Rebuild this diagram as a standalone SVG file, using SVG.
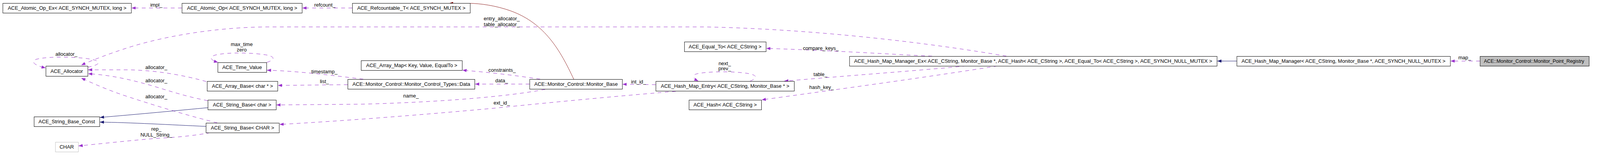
<svg xmlns="http://www.w3.org/2000/svg" width="4197" height="405" viewBox="0 0 4197 405" preserveAspectRatio="none">
<style>
  svg:root{width:100vw;height:100vh}
  .box{fill:#ffffff;stroke:#000000;stroke-width:1}
  .gbox{fill:#ffffff;stroke:#bfbfbf;stroke-width:1}
  .sel{fill:#bfbfbf;stroke:#000000;stroke-width:1}
  .t{font-family:"Liberation Sans",Arial,sans-serif;font-size:13.3px;fill:#000000;text-anchor:middle}
  .e{fill:none;stroke:#9a32cd;stroke-width:1;stroke-dasharray:10,9}
  .inh{fill:none;stroke:#191970;stroke-width:1}
  .priv{fill:none;stroke:#8b1a1a;stroke-width:1}
</style>
<defs>
  <marker id="ap" markerUnits="userSpaceOnUse" markerWidth="12" markerHeight="9" refX="11" refY="4" orient="auto"><path d="M0,0 L11,4 L0,8 z" fill="#9a32cd"/></marker>
  <marker id="an" markerUnits="userSpaceOnUse" markerWidth="12" markerHeight="9" refX="11" refY="4" orient="auto"><path d="M0,0 L11,4 L0,8 z" fill="#191970"/></marker>
  <marker id="ar" markerUnits="userSpaceOnUse" markerWidth="12" markerHeight="9" refX="11" refY="4" orient="auto"><path d="M0,0 L11,4 L0,8 z" fill="#8b1a1a"/></marker>
</defs>
<rect width="4197" height="405" fill="#ffffff"/>
<g id="connectors">
  <path class="e" d="M477,20.5 L345,20.5" marker-end="url(#ap)"/>
  <text class="t" x="410" y="17">impl_</text>
  <path class="e" d="M924,20.5 L793,20.5" marker-end="url(#ap)"/>
  <text class="t" x="852" y="17">refcount_</text>
  <path class="priv" d="M1505,203 C1470,130 1430,60 1340,28 C1300,14 1260,9 1232,8.5 L1178,8.5" marker-end="url(#ar)"/>
  <path class="e" d="M230,172 C255,168 270,160 245,153 C215,146 130,143 95,152 C80,158 90,168 120,174" marker-end="url(#ap)"/>
  <text class="t" x="174" y="143">allocator_</text>
  <path class="e" d="M2640,144 C2450,112 2150,75 1850,69 L700,69 C560,70 420,95 330,124 C280,140 240,155 213,167" marker-end="url(#ap)"/>
  <text class="t" x="1316" y="52">entry_allocator_</text>
  <text class="t" x="1316" y="67">table_allocator_</text>
  <path class="e" d="M541,209 C490,195 420,181 340,179 L231,179" marker-end="url(#ap)"/>
  <text class="t" x="410" y="177">allocator_</text>
  <path class="e" d="M545,258 C500,250 460,238 420,226 C350,205 290,192 231,189" marker-end="url(#ap)"/>
  <text class="t" x="410" y="211">allocator_</text>
  <path class="e" d="M570,315 C500,298 420,275 330,246 C280,230 240,212 213,200" marker-end="url(#ap)"/>
  <text class="t" x="410" y="252">allocator_</text>
  <path class="inh" d="M545,276 C480,282 350,294 262,301" marker-end="url(#an)"/>
  <path class="inh" d="M540,324 C450,320 340,314 262,313" marker-end="url(#an)"/>
  <path class="e" d="M552,340 C520,346 470,352 420,354 C340,360 260,369 206,374" marker-end="url(#ap)"/>
  <text class="t" x="410" y="335">rep_</text>
  <text class="t" x="410" y="350">NULL_String_</text>
  <path class="e" d="M700,160 C715,155 725,148 705,142 C670,135 600,133 565,141 C545,147 555,155 572,160" marker-end="url(#ap)"/>
  <text class="t" x="634" y="118">max_time</text>
  <text class="t" x="634" y="132">zero</text>
  <path class="e" d="M953,203 C870,193 780,182 700,180" marker-end="url(#ap)"/>
  <text class="t" x="851" y="188">timestamp_</text>
  <path class="e" d="M912,217 L729,219" marker-end="url(#ap)"/>
  <text class="t" x="851" y="213">list_</text>
  <path class="e" d="M1430,229 C1330,248 1150,262 950,267 L725,269" marker-end="url(#ap)"/>
  <text class="t" x="1078" y="250">name_</text>
  <path class="e" d="M1417,203 C1350,193 1280,185 1213,180" marker-end="url(#ap)"/>
  <text class="t" x="1317" y="184">constraints_</text>
  <path class="e" d="M1389,215.5 L1246,215.5" marker-end="url(#ap)"/>
  <text class="t" x="1316" y="211">data_</text>
  <path class="e" d="M1720,217 L1633,216" marker-end="url(#ap)"/>
  <text class="t" x="1675" y="214">int_id_</text>
  <path class="e" d="M1773,234 C1600,248 1450,262 1300,277 C1100,295 900,310 733,319" marker-end="url(#ap)"/>
  <text class="t" x="1316" y="268">ext_id_</text>
  <path class="e" d="M1968,208 C1985,200 1990,193 1960,188 C1920,182 1850,183 1825,190 C1815,195 1820,202 1832,208" marker-end="url(#ap)"/>
  <text class="t" x="1901" y="167">next_</text>
  <text class="t" x="1901" y="180">prev_</text>
  <path class="e" d="M2445,144 C2350,140 2200,130 2010,124" marker-end="url(#ap)"/>
  <text class="t" x="2153" y="128">compare_keys_</text>
  <path class="e" d="M2535,169 C2420,180 2250,192 2057,208" marker-end="url(#ap)"/>
  <text class="t" x="2152" y="195">table_</text>
  <path class="e" d="M2617,169 C2450,195 2250,222 1998,256" marker-end="url(#ap)"/>
  <text class="t" x="2155" y="228">hash_key_</text>
  <path class="inh" d="M3244,156.5 L3193,156.5" marker-end="url(#an)"/>
  <path class="e" d="M3882,156.5 L3805,156.5" marker-end="url(#ap)"/>
  <text class="t" x="3842" y="152">map_</text>
</g>
<g id="n_atomic_ex"><rect class="box" x="7.5" y="8.5" width="337" height="25"/><text class="t" x="176" y="25" textLength="311" lengthAdjust="spacingAndGlyphs">ACE_Atomic_Op_Ex&lt; ACE_SYNCH_MUTEX, long &gt;</text></g>
<g id="n_atomic"><rect class="box" x="477.5" y="8.5" width="315" height="25"/><text class="t" x="635" y="25" textLength="289" lengthAdjust="spacingAndGlyphs">ACE_Atomic_Op&lt; ACE_SYNCH_MUTEX, long &gt;</text></g>
<g id="n_refcountable"><rect class="box" x="924.5" y="8.5" width="309" height="25"/><text class="t" x="1079" y="25" textLength="284" lengthAdjust="spacingAndGlyphs">ACE_Refcountable_T&lt; ACE_SYNCH_MUTEX &gt;</text></g>
<g id="n_allocator"><rect class="box" x="120.5" y="169.5" width="110" height="26"/><text class="t" x="175" y="187" textLength="85" lengthAdjust="spacingAndGlyphs">ACE_Allocator</text></g>
<g id="n_string_base_const"><rect class="box" x="89.5" y="299.5" width="172" height="25"/><text class="t" x="175" y="316" textLength="148" lengthAdjust="spacingAndGlyphs">ACE_String_Base_Const</text></g>
<g id="n_char"><rect class="gbox" x="145.5" y="364.5" width="60" height="25"/><text class="t" x="175" y="381">CHAR</text></g>
<g id="n_time_value"><rect class="box" x="571.5" y="160.5" width="128" height="25"/><text class="t" x="635" y="177" textLength="104" lengthAdjust="spacingAndGlyphs">ACE_Time_Value</text></g>
<g id="n_array_base"><rect class="box" x="543.5" y="208.5" width="185" height="25"/><text class="t" x="636" y="225" textLength="160" lengthAdjust="spacingAndGlyphs">ACE_Array_Base&lt; char * &gt;</text></g>
<g id="n_string_base_char"><rect class="box" x="545.5" y="256.5" width="179" height="25"/><text class="t" x="635" y="273" textLength="153" lengthAdjust="spacingAndGlyphs">ACE_String_Base&lt; char &gt;</text></g>
<g id="n_string_base_CHAR"><rect class="box" x="540.5" y="315.5" width="192" height="25"/><text class="t" x="636" y="332" textLength="166" lengthAdjust="spacingAndGlyphs">ACE_String_Base&lt; CHAR &gt;</text></g>
<g id="n_array_map"><rect class="box" x="947.5" y="155.5" width="265" height="25"/><text class="t" x="1080" y="172" textLength="239" lengthAdjust="spacingAndGlyphs">ACE_Array_Map&lt; Key, Value, EqualTo &gt;</text></g>
<g id="n_data"><rect class="box" x="912.5" y="203.5" width="333" height="25"/><text class="t" x="1079" y="220" textLength="309" lengthAdjust="spacingAndGlyphs">ACE::Monitor_Control::Monitor_Control_Types::Data</text></g>
<g id="n_monitor_base"><rect class="box" x="1389.5" y="203.5" width="243" height="25"/><text class="t" x="1511" y="220" textLength="219" lengthAdjust="spacingAndGlyphs">ACE::Monitor_Control::Monitor_Base</text></g>
<g id="n_hash_map_entry"><rect class="box" x="1720.5" y="208.5" width="363" height="25"/><text class="t" x="1902" y="225" textLength="337" lengthAdjust="spacingAndGlyphs">ACE_Hash_Map_Entry&lt; ACE_CString, Monitor_Base * &gt;</text></g>
<g id="n_equal_to"><rect class="box" x="1795.5" y="107.5" width="214" height="25"/><text class="t" x="1902" y="124" textLength="191" lengthAdjust="spacingAndGlyphs">ACE_Equal_To&lt; ACE_CString &gt;</text></g>
<g id="n_hash"><rect class="box" x="1807.5" y="256.5" width="190" height="25"/><text class="t" x="1902" y="273" textLength="166" lengthAdjust="spacingAndGlyphs">ACE_Hash&lt; ACE_CString &gt;</text></g>
<g id="n_hash_map_manager_ex"><rect class="box" x="2228.5" y="144.5" width="964" height="25"/><text class="t" x="2710" y="161" textLength="939" lengthAdjust="spacingAndGlyphs">ACE_Hash_Map_Manager_Ex&lt; ACE_CString, Monitor_Base *, ACE_Hash&lt; ACE_CString &gt;, ACE_Equal_To&lt; ACE_CString &gt;, ACE_SYNCH_NULL_MUTEX &gt;</text></g>
<g id="n_hash_map_manager"><rect class="box" x="3244.5" y="144.5" width="560" height="25"/><text class="t" x="3524" y="161" textLength="535" lengthAdjust="spacingAndGlyphs">ACE_Hash_Map_Manager&lt; ACE_CString, Monitor_Base *, ACE_SYNCH_NULL_MUTEX &gt;</text></g>
<g id="n_registry"><rect class="sel" x="3882.5" y="144.5" width="286" height="25"/><text class="t" x="4024" y="161" textLength="263" lengthAdjust="spacingAndGlyphs">ACE::Monitor_Control::Monitor_Point_Registry</text></g>
</svg>
